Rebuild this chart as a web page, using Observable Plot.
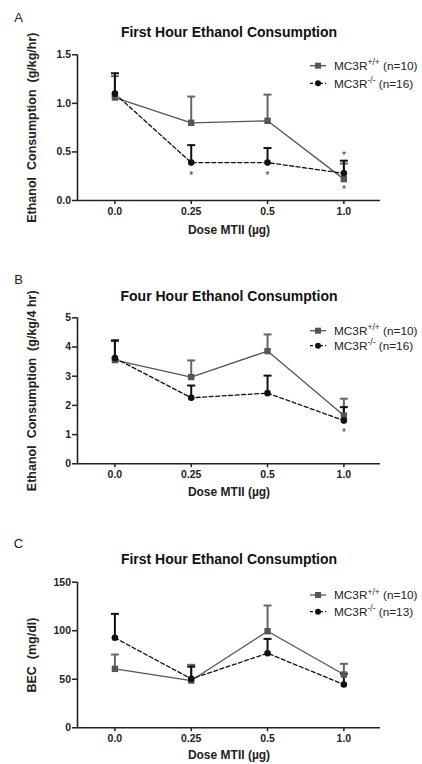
<!DOCTYPE html>
<html>
<head>
<meta charset="utf-8">
<script src="https://cdn.jsdelivr.net/npm/d3@7"></script>
<script src="https://cdn.jsdelivr.net/npm/@observablehq/plot@0.6"></script>
<style>
  html, body { margin: 0; padding: 0; background: #fff; }
  #wrap { position: relative; width: 422px; height: 764px; overflow: hidden; }
  svg text { white-space: pre; }
</style>
</head>
<body>
<div id="wrap"></div>
<script>
// ---------- data ----------
const doses = ["0.0", "0.25", "0.5", "1.0"];
const idx = [0, 1, 2, 3];

// Panel A: first hour ethanol consumption (g/kg/hr)
const wtA = [1.06, 0.80, 0.82, 0.22];
const wtAerr = [1.28, 1.07, 1.09, 0.38];
const koA = [1.10, 0.39, 0.39, 0.28];
const koAerr = [1.31, 0.57, 0.54, 0.41];
const starsA = [{i: 1, y: 0.285}, {i: 2, y: 0.281}, {i: 3, y: 0.481}, {i: 3, y: 0.137}];
const ticksA = [0, 0.5, 1.0, 1.5];

// Panel B: four hour ethanol consumption (g/kg/4 hr)
const wtB = [3.55, 2.97, 3.86, 1.65];
const wtBerr = [4.20, 3.54, 4.43, 2.23];
const koB = [3.62, 2.26, 2.42, 1.48];
const koBerr = [4.23, 2.68, 3.02, 1.94];
const starsB = [{i: 3, y: 1.14}];
const ticksB = [0, 1, 2, 3, 4, 5];

// Panel C: BEC (mg/dl)
const wtC = [60.7, 48.7, 99.5, 54.9];
const wtCerr = [75.5, 64.9, 126, 65.9];
const koC = [92.7, 50.4, 76.8, 44.6];
const koCerr = [117.4, 63.0, 91.6, 55.6];
const starsC = [];
const ticksC = [0, 50, 100, 150];

const nWT = [10, 10, 10];
const nKO = [16, 16, 13];

// ---------- drawing ----------
const FONT = "'Liberation Sans', Arial, Helvetica, sans-serif";
const WT_COLOR = "#555555";
const KO_COLOR = "#111111";
const xDomain = [-0.49, 3.48];

const capSymbol = {
  draw(context, size) {
    const w = Math.sqrt(size / Math.PI);
    context.moveTo(-w, 0);
    context.lineTo(w, 0);
  }
};

function panel(o) {
  const plot = Plot.plot({
    width: 422,
    height: o.height,
    marginTop: o.marginTop,
    marginBottom: o.marginBottom,
    marginLeft: 77,
    marginRight: 42,
    x: {type: "linear", domain: xDomain, axis: null},
    y: {domain: [o.ticks[0], o.ticks[o.ticks.length - 1]], axis: null},
    style: {fontFamily: FONT, fontSize: "10.5px", fontWeight: "bold", color: "#222", background: "transparent", overflow: "visible"},
    marks: [
      Plot.axisX(idx, {tickSize: 4, tickPadding: 3, strokeWidth: 1.5, tickFormat: i => doses[i], label: null}),
      Plot.axisY(o.ticks, {tickSize: 5, tickPadding: 1.5, strokeWidth: 1.5, tickFormat: o.format, label: null}),
      Plot.ruleY([o.ticks[0]], {stroke: "#222", strokeWidth: 1.6}),
      Plot.ruleX([xDomain[0]], {stroke: "#222", strokeWidth: 1.6}),
      Plot.line(idx, {x: i => i, y: i => o.wt[i], stroke: WT_COLOR, strokeWidth: 1.3}),
      Plot.line(idx, {x: i => i, y: i => o.ko[i], stroke: KO_COLOR, strokeWidth: 1.3, strokeDasharray: "4,2.5"}),
      Plot.ruleX(idx, {x: i => i, y1: i => o.wt[i], y2: i => o.wtErr[i], stroke: "#666", strokeWidth: 2}),
      Plot.dot(idx, {x: i => i, y: i => o.wtErr[i], symbol: capSymbol, r: 4, fill: "none", stroke: "#666", strokeWidth: 2}),
      Plot.ruleX(idx, {x: i => i, y1: i => o.ko[i], y2: i => o.koErr[i], stroke: KO_COLOR, strokeWidth: 2}),
      Plot.dot(idx, {x: i => i, y: i => o.koErr[i], symbol: capSymbol, r: 4, fill: "none", stroke: KO_COLOR, strokeWidth: 2}),
      Plot.dot(idx, {x: i => i, y: i => o.wt[i], symbol: "square", r: 3.6, fill: WT_COLOR, stroke: "none"}),
      Plot.dot(idx, {x: i => i, y: i => o.ko[i], symbol: "circle", r: 3.3, fill: KO_COLOR, stroke: "none"}),
      Plot.text(o.stars, {x: "i", y: "y", text: () => "*", fontSize: 10, fontWeight: "normal", dy: 2.5, fill: "#333"}),
      Plot.text([o.title], {frameAnchor: "top", dy: o.titleDy, lineAnchor: "middle", textAnchor: "middle", fontSize: 14, fontWeight: "bold", fill: "#111"}),
      Plot.text([o.letter], {frameAnchor: "top-left", dx: -59, dy: o.letterDy, lineAnchor: "middle", textAnchor: "middle", fontSize: 13, fontWeight: "normal", fill: "#222"}),
      Plot.text([o.ylabel], {frameAnchor: "left", dx: -46, rotate: -90, lineAnchor: "middle", textAnchor: "middle", fontSize: 12.5, fontWeight: "bold", fill: "#222"}),
      Plot.text(["Dose MTII (µg)"], {frameAnchor: "bottom", dy: o.xlabelDy, lineAnchor: "middle", textAnchor: "middle", fontSize: 12, fontWeight: "bold", fill: "#222"})
    ]
  });
  plot.style.position = "absolute";
  plot.style.left = "0px";
  plot.style.top = o.top + "px";

  // legend
  const svg = d3.select(plot);
  const g = svg.append("g").attr("font-family", FONT).attr("font-size", 11.8).attr("font-weight", "normal")
    .attr("fill", "#222").attr("text-anchor", "start");
  const rows = [
    {y: o.legendY[0], color: WT_COLOR, dash: null, sym: "square", sup: "+/+", n: o.nwt},
    {y: o.legendY[1], color: KO_COLOR, dash: "3,2", sym: "circle", sup: "-/-", n: o.nko}
  ];
  for (const r of rows) {
    g.append("line").attr("x1", 310).attr("x2", 326).attr("y1", r.y).attr("y2", r.y)
      .attr("stroke", r.color).attr("stroke-width", 1.3).attr("stroke-dasharray", r.dash);
    if (r.sym === "square") {
      g.append("rect").attr("x", 318 - 3).attr("y", r.y - 3).attr("width", 6).attr("height", 6).attr("fill", r.color);
    } else {
      g.append("circle").attr("cx", 318).attr("cy", r.y).attr("r", 3).attr("fill", r.color);
    }
    const t = g.append("text").attr("x", 334).attr("y", r.y).attr("dy", "0.36em").attr("text-anchor", "start");
    t.append("tspan").text("MC3R");
    t.append("tspan").attr("font-size", 8.5).attr("dy", -4.5).text(r.sup);
    t.append("tspan").attr("dy", 4.5).text(" (n=" + r.n + ")");
  }
  return plot;
}

const wrap = document.getElementById("wrap");
wrap.append(panel({
  top: 0, height: 250, marginTop: 54.3, marginBottom: 50,
  letter: "A", title: "First Hour Ethanol Consumption",
  ylabel: "Ethanol  Consumption  (g/kg/hr)",
  ticks: ticksA, format: d3.format(".1f"),
  wt: wtA, wtErr: wtAerr, ko: koA, koErr: koAerr, stars: starsA,
  titleDy: -22.3, letterDy: -37.3, xlabelDy: 30,
  legendY: [65.7, 83.3], nwt: nWT[0], nko: nKO[0]
}));
wrap.append(panel({
  top: 250, height: 260, marginTop: 67.3, marginBottom: 46.7,
  letter: "B", title: "Four Hour Ethanol Consumption",
  ylabel: "Ethanol  Consumption  (g/kg/4 hr)",
  ticks: ticksB, format: d3.format("d"),
  wt: wtB, wtErr: wtBerr, ko: koB, koErr: koBerr, stars: starsB,
  titleDy: -21.6, letterDy: -38.3, xlabelDy: 28.4,
  legendY: [80.7, 95.7], nwt: nWT[1], nko: nKO[1]
}));
wrap.append(panel({
  top: 510, height: 254, marginTop: 71.7, marginBottom: 36.7,
  letter: "C", title: "First Hour Ethanol Consumption",
  ylabel: "BEC  (mg/dl)",
  ticks: ticksC, format: d3.format("d"),
  wt: wtC, wtErr: wtCerr, ko: koC, koErr: koCerr, stars: starsC,
  titleDy: -22.7, letterDy: -38.7, xlabelDy: 27.7,
  legendY: [85, 101.7], nwt: nWT[2], nko: nKO[2]
}));
</script>
</body>
</html>
